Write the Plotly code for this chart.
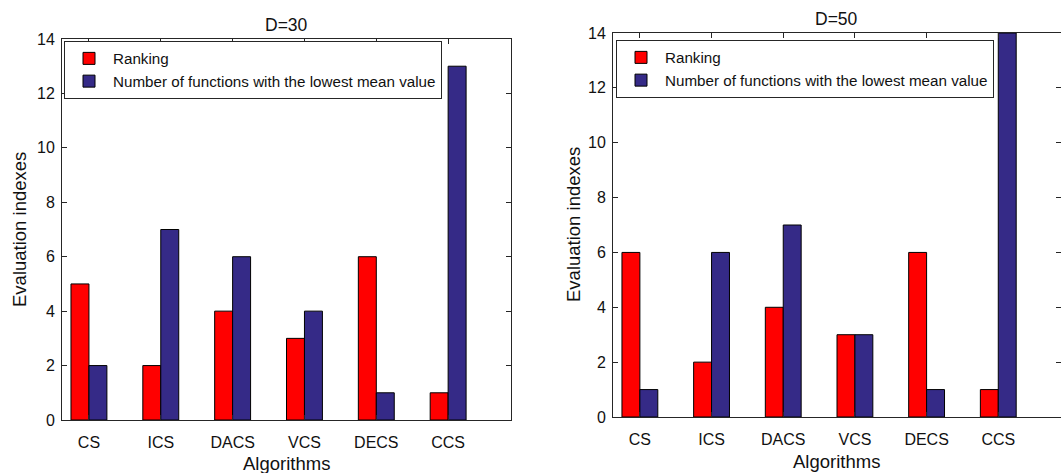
import plotly.graph_objects as go

algorithms = ["CS", "ICS", "DACS", "VCS", "DECS", "CCS"]
positions = [1, 2, 3, 4, 5, 6]
rank_d30 = [5, 2, 4, 3, 6, 1]
lowest_d30 = [2, 7, 6, 4, 1, 13]
rank_d50 = [6, 2, 4, 3, 6, 1]
lowest_d50 = [1, 6, 7, 3, 1, 14]
y_ticks = [0, 2, 4, 6, 8, 10, 12, 14]

RED = "#FF0000"
BLUE = "#352A87"
FONT = "Liberation Sans, Arial, sans-serif"
W, H = 1061, 473

fig = go.Figure()

def add_panel(rank, lowest, xa, ya, leg):
    fig.add_trace(go.Bar(x=positions, y=rank, name="Ranking", marker=dict(color=RED, line=dict(color="black", width=1)),
                         xaxis=xa, yaxis=ya, legend=leg, offsetgroup="r"))
    fig.add_trace(go.Bar(x=positions, y=lowest, name="Number of functions with the lowest mean value",
                         marker=dict(color=BLUE, line=dict(color="black", width=1)),
                         xaxis=xa, yaxis=ya, legend=leg, offsetgroup="b"))

add_panel(rank_d30, lowest_d30, "x", "y", "legend")
add_panel(rank_d50, lowest_d50, "x2", "y2", "legend2")

axis_common = dict(showline=True, linecolor="#262626", linewidth=1, mirror="ticks", ticks="inside",
                   ticklen=5, tickcolor="#262626", showgrid=False, zeroline=False, automargin=False,
                   tickfont=dict(family=FONT, size=16, color="#111111"))

def px_x(p):
    return p / W

def px_y(p):
    return 1 - p / H

leg_font = dict(family=FONT, size=15.2, color="#111111")

fig.update_layout(
    width=W, height=H, margin=dict(l=0, r=0, t=0, b=0, autoexpand=False),
    paper_bgcolor="white", plot_bgcolor="white",
    barmode="group", bargap=0.5, bargroupgap=0,
    font=dict(family=FONT, size=15, color="#111111"),
    xaxis=dict(domain=[px_x(62), px_x(511)], range=[0.625, 6.875], tickvals=positions, ticktext=algorithms,
               anchor="y", ticklabelstandoff=8, **axis_common),
    yaxis=dict(domain=[px_y(420), px_y(39)], range=[0, 14], tickvals=y_ticks, anchor="x",
               ticklabelstandoff=3, **axis_common),
    xaxis2=dict(domain=[px_x(613), 1.0], range=[0.625, 6.875], tickvals=positions, ticktext=algorithms,
                anchor="y2", ticklabelstandoff=8, **axis_common),
    yaxis2=dict(domain=[px_y(417), px_y(33)], range=[0, 14], tickvals=y_ticks, anchor="x2",
                ticklabelstandoff=3, **axis_common),
    legend=dict(x=px_x(64), y=px_y(41), xanchor="left", yanchor="top", bgcolor="white",
                bordercolor="#262626", borderwidth=1, font=leg_font, tracegroupgap=0, itemwidth=38),
    legend2=dict(x=px_x(616), y=px_y(40), xanchor="left", yanchor="top", bgcolor="white",
                 bordercolor="#262626", borderwidth=1, font=leg_font, tracegroupgap=0, itemwidth=38),
)

ann_font = dict(family=FONT, size=18.5, color="#111111")
title_font = dict(family=FONT, size=17.5, color="#111111")

def ann(text, x, y, font, angle=0):
    return dict(text=text, x=px_x(x), y=px_y(y), xref="paper", yref="paper", showarrow=False,
                xanchor="center", yanchor="middle", textangle=angle, font=font)

annotations = [
    ann("D=30", 286, 25, title_font),
    ann("D=50", 836, 19, title_font),
    ann("Evaluation indexes", 20, 230, ann_font, -90),
    ann("Evaluation indexes", 573, 225, ann_font, -90),
    ann("Algorithms", 286, 463, ann_font),
    ann("Algorithms", 836, 461, ann_font),
]
fig.update_layout(annotations=annotations)

fig.write_html("out.html", config={"displayModeBar": False},
               post_script="document.body.style.margin='0px';document.body.style.overflow='hidden';")
